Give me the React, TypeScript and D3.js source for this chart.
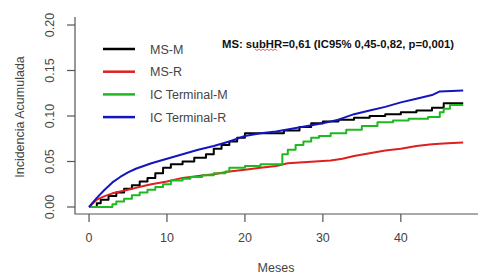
import React from "react";
import * as d3 from "d3";

const xTicks = [0, 10, 20, 30, 40];
const yTicks = [0, 0.05, 0.1, 0.15, 0.2];

const msmT = [0,1,1.5,2.5,3.5,4.5,5.5,6.5,7.5,8.5,9.5,10.5,12,13.5,15,16,17,18,19,20,23.5,25,27,28.5,30,32,34,36,38,40,42,44,45.5,48];
const msmV = [0,0.004,0.008,0.012,0.016,0.02,0.024,0.028,0.032,0.037,0.043,0.047,0.05,0.054,0.058,0.064,0.068,0.072,0.076,0.081,0.081,0.084,0.088,0.092,0.094,0.096,0.098,0.1,0.102,0.104,0.106,0.109,0.114,0.114];

const msrT = [0,1,2,3,4,5,6,7,8,10,12,14,16,18,20,22,24,25.5,27,29,31,32.5,34,36,38,40,42,44,46,48];
const msrV = [0,0.008,0.012,0.015,0.017,0.019,0.021,0.023,0.025,0.028,0.032,0.034,0.036,0.039,0.041,0.043,0.045,0.048,0.049,0.05,0.051,0.053,0.056,0.059,0.062,0.064,0.067,0.069,0.07,0.071];

const ictmT = [0,3,3.5,4.5,5.5,6.5,7.5,8.5,9.5,10.5,12,13,14.5,16,17.5,18,20,22,24.8,25.5,26.5,27.5,28.5,29.5,31,33,35,37,39,41,43.5,45,45.5,46.3,48];
const ictmV = [0,0.003,0.006,0.009,0.013,0.016,0.019,0.022,0.025,0.029,0.031,0.033,0.035,0.037,0.039,0.043,0.045,0.047,0.058,0.063,0.068,0.072,0.076,0.078,0.081,0.085,0.089,0.093,0.095,0.097,0.099,0.104,0.108,0.112,0.112];

const ictrT = [0,1,2,3,4,5,6,8,10,12,14,16,18,20,22,24,26,28,30,32,33,34,36,38,40,42,44,45,48];
const ictrV = [0,0.01,0.019,0.027,0.033,0.038,0.042,0.048,0.053,0.058,0.063,0.067,0.072,0.078,0.081,0.083,0.086,0.089,0.092,0.096,0.099,0.102,0.106,0.11,0.115,0.119,0.123,0.127,0.128];

const seriesNames = ["MS-M", "MS-R", "IC Terminal-M", "IC Terminal-R"];
const seriesColors = ["#000000", "#dd2020", "#20b820", "#1515c0"];
const seriesT = [msmT, msrT, ictmT, ictrT];
const seriesV = [msmV, msrV, ictmV, ictrV];
const seriesFine = [false, true, false, true];

const annotation = "MS: subHR=0,61 (IC95% 0,45-0,82, p=0,001)";

export default function App() {
  const x = d3.scaleLinear().domain([-1.8, 49.9]).range([75, 478]);
  const y = d3.scaleLinear().domain([-0.0077, 0.2088]).range([214, 17]);
  const stepLine = d3
    .line<[number, number]>()
    .x((d) => x(d[0]))
    .y((d) => y(d[1]))
    .curve(d3.curveStepAfter);
  const fineLine = d3
    .line<[number, number]>()
    .x((d) => x(d[0]))
    .y((d) => y(d[1]))
    .curve(d3.curveLinear);
  const axisColor = "#555";
  const font = "Liberation Sans, Arial, sans-serif";
  let squig = "M255,49";
  for (let i = 0; i < 11; i++) {
    squig += ` L${257 + i * 2},${i % 2 === 0 ? 50.5 : 49}`;
  }
  return (
    <svg
      width={485}
      height={280}
      style={{ position: "absolute", left: 0, top: 0, background: "#fff" }}
      fontFamily={font}
    >
      <rect width={485} height={280} fill="#fff" />
      <path d={`M75,17 L75,214 L478,214`} fill="none" stroke={axisColor} strokeWidth={1.2} />
      {xTicks.map((t) => (
        <g key={"x" + t}>
          <line x1={x(t)} x2={x(t)} y1={214} y2={222} stroke={axisColor} strokeWidth={1.2} />
          <text x={x(t)} y={242} fontSize={12.5} fill="#444" textAnchor="middle">
            {t}
          </text>
        </g>
      ))}
      {yTicks.map((t) => (
        <g key={"y" + t}>
          <line x1={67} x2={75} y1={y(t)} y2={y(t)} stroke={axisColor} strokeWidth={1.2} />
          <text
            transform={`translate(54,${y(t)}) rotate(-90)`}
            fontSize={12.5}
            fill="#444"
            textAnchor="middle"
          >
            {t.toFixed(2)}
          </text>
        </g>
      ))}
      <text x={276} y={272} fontSize={12.5} fill="#444" textAnchor="middle">
        Meses
      </text>
      <text
        transform={`translate(24,117) rotate(-90)`}
        fontSize={12.5}
        fill="#444"
        textAnchor="middle"
      >
        Incidencia Acumulada
      </text>
      {seriesT.map((ts, i) => {
        const pts = ts.map((t, j) => [t, seriesV[i][j]] as [number, number]);
        const gen = seriesFine[i] ? fineLine : stepLine;
        return (
          <path
            key={"s" + i}
            d={gen(pts) || ""}
            fill="none"
            stroke={seriesColors[i]}
            strokeWidth={2}
            strokeLinejoin="round"
          />
        );
      })}
      {seriesNames.map((n, i) => {
        const yy = 49 + i * 22.7;
        return (
          <g key={"l" + i}>
            <line x1={103} x2={135} y1={yy} y2={yy} stroke={seriesColors[i]} strokeWidth={2.5} />
            <text x={150} y={yy + 4.5} fontSize={12.5} fill="#444">
              {n}
            </text>
          </g>
        );
      })}
      <text
        x={222}
        y={48}
        fontSize={10.5}
        fontWeight="bold"
        fill="#111"
        textLength={232}
        lengthAdjust="spacingAndGlyphs"
      >
        {annotation}
      </text>
      <path d={squig} fill="none" stroke="#d02020" strokeWidth={0.7} />
    </svg>
  );
}
